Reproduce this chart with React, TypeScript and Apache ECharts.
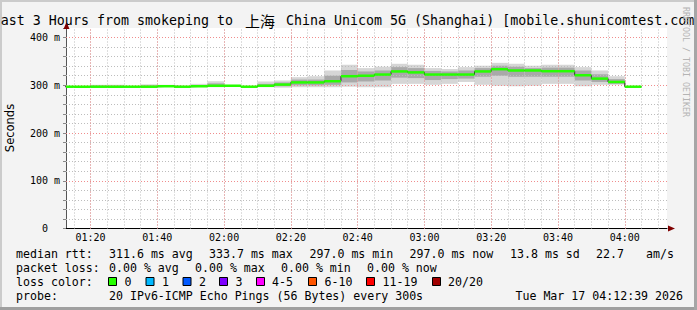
import React, { useEffect, useRef } from 'react';
import * as echarts from 'echarts';

// ---------- data ----------
const binStarts = [
  '01:10', '01:15', '01:20', '01:25', '01:30', '01:35', '01:40', '01:45', '01:50', '01:55',
  '02:00', '02:05', '02:10', '02:15', '02:20', '02:25', '02:30', '02:35', '02:40', '02:45',
  '02:50', '02:55', '03:00', '03:05', '03:10', '03:15', '03:20', '03:25', '03:30', '03:35',
  '03:40', '03:45', '03:50', '03:55', '04:00',
];
const medianRtt = [
  297, 297, 297, 297, 297, 297, 298, 297, 298, 299,
  299, 297, 299, 301.5, 306, 306, 308.5, 319, 320, 322.5,
  329, 327, 322.5, 322.5, 322.5, 329, 333.7, 331, 331, 329.5,
  329.5, 321, 314, 307, 297,
];
const smokeMin = [
  296.5, 297, 296, 296, 296.5, 296, 296.5, 296.5, 296, 296,
  296.5, 296, 296, 295, 296, 296, 296, 297, 296, 296,
  303, 303, 301, 303, 307, 301, 299, 298, 299, 303,
  303, 298, 301, 301, 296.5,
];
const smokeQ1 = [
  297, 297, 297, 297, 297, 297, 297, 297, 297, 297,
  297.5, 296.5, 297, 298, 300, 300, 301, 306, 308, 310,
  316, 315, 311, 313, 314, 318, 320, 318, 318, 318,
  318, 310, 307, 303, 297,
];
const smokeQ3 = [
  297.5, 297.5, 299, 299, 297.5, 299.5, 299.5, 297.5, 300.5, 304,
  300, 297.5, 303, 306, 312, 312, 320, 332, 329, 331,
  338, 336, 330, 329, 331, 336, 341, 339, 336, 337,
  337, 331, 323, 313, 297.5,
];
const smokeMax = [
  298, 298, 301, 301, 298.5, 302, 301, 298.5, 303, 308.5,
  301, 298, 308, 310, 317, 319, 331, 343, 336, 339,
  345, 343, 336, 334, 338, 341, 347, 345, 341, 343,
  343, 338, 331, 319, 298,
];
const BIN_MINUTES = 5;
const xStart = '01:12:39';
const xEnd = '04:12:39';
const xLabelTimes = ['01:20', '01:40', '02:00', '02:20', '02:40', '03:00', '03:20', '03:40', '04:00'];
const xMinorTimes = [
  '01:15', '01:20', '01:25', '01:30', '01:35', '01:40', '01:45', '01:50', '01:55', '02:00',
  '02:05', '02:10', '02:15', '02:20', '02:25', '02:30', '02:35', '02:40', '02:45', '02:50',
  '02:55', '03:00', '03:05', '03:10', '03:15', '03:20', '03:25', '03:30', '03:35', '03:40',
  '03:45', '03:50', '03:55', '04:00', '04:05', '04:10',
];
const yMajor = [100, 200, 300, 400];
const yMinor = [20, 40, 60, 80, 100, 120, 140, 160, 180, 200, 220, 240, 260, 280, 300, 320, 340, 360, 380, 400];

const titleLeft = 'ast 3 Hours from smokeping to ';
const titleCjk = '上海';
const titleRight = ' China Unicom 5G (Shanghai) [mobile.shunicomtest.com';
const watermark = 'RRDTOOL / TOBI OETIKER';
const yTitle = 'Seconds';

const rttRow = [
  'median rtt:', '311.6 ms avg', '333.7 ms max', '297.0 ms min', '297.0 ms now', '13.8 ms sd', '22.7', 'am/s',
];
const lossRow = ['packet loss:', '0.00 % avg', '0.00 % max', '0.00 % min', '0.00 % now'];
const lossLegendLabel = 'loss color:';
const lossNames = ['0', '1', '2', '3', '4-5', '6-10', '11-19', '20/20'];
const lossColors = ['#26ff00', '#00b8ff', '#0059ff', '#7e00ff', '#ff00ff', '#ff5500', '#ff0000', '#a00000'];
const probeRow = ['probe:', '20 IPv6-ICMP Echo Pings (56 Bytes) every 300s', 'Tue Mar 17 04:12:39 2026'];

// ---------- layout (pixels) ----------
const W = 697;
const H = 310;
const rttX = [16, 109, 209, 309.5, 409.5, 510, 596, 646];
const lossX = [16, 109, 195, 281, 367];
const boxX = [108, 145.5, 182.5, 219, 256, 308, 366, 432];
const boxLabelX = [124.5, 162, 199, 235.5, 272, 324.5, 382.5, 448];
const rowY = [254, 268, 282, 296];

const MONO = 'DejaVu Sans Mono';
const GRID_GRAY = '#bdbdbd';
const GRID_RED = '#f08c8c';

function toMin(t: string): number {
  const p = t.split(':').map(Number);
  return p[0] * 60 + p[1] + (p[2] || 0) / 60;
}
function pad(n: number) {
  return n < 10 ? '0' + n : '' + n;
}
function fmtMin(m: number) {
  const h = Math.floor(m / 60);
  const mm = Math.round(m - h * 60);
  return pad(h) + ':' + pad(mm);
}

function clipTo(r: any, cs: any) {
  return echarts.graphic.clipRectByRect(r, { x: cs.x, y: cs.y, width: cs.width, height: cs.height });
}

function bandSeries(lo: number[], hi: number[], color: string, z: number) {
  return {
    type: 'custom',
    z,
    silent: true,
    encode: { x: 0, y: [1, 2] },
    data: binStarts.map((t, i) => [toMin(t), lo[i], hi[i]]),
    renderItem: (params: any, api: any) => {
      const s = api.value(0);
      const a = api.coord([s, api.value(2)]);
      const b = api.coord([s + BIN_MINUTES, api.value(1)]);
      const r = clipTo({ x: a[0], y: a[1], width: b[0] - a[0], height: Math.max(b[1] - a[1], 0.6) }, params.coordSys);
      if (!r) return null;
      return { type: 'rect', shape: r, style: { fill: color } };
    },
  };
}

function txt(text: string, x: number, y: number, size: number, extra: any = {}) {
  const { fill, fontFamily, align, ...rest } = extra;
  return {
    type: 'text',
    x,
    y,
    z: 100,
    silent: true,
    ...rest,
    style: {
      text,
      fill: fill || '#000',
      fontFamily: fontFamily || MONO,
      fontSize: size,
      align: align || 'left',
      verticalAlign: 'middle',
      textAlign: align || 'left',
      textVerticalAlign: 'middle',
    },
  };
}

export default function App() {
  const ref = useRef<HTMLDivElement>(null);

  useEffect(() => {
    if (!ref.current) return;
    const chart = echarts.init(ref.current, undefined, { renderer: 'svg', width: W, height: H });

    const medianLine = binStarts.map((t, i) => [toMin(t), medianRtt[i]]);
    medianLine.push([toMin(binStarts[binStarts.length - 1]) + BIN_MINUTES, medianRtt[medianRtt.length - 1]]);

    const gridLineData: any[] = [];
    xMinorTimes.forEach((t) => gridLineData.push({ xAxis: toMin(t), lineStyle: { color: GRID_GRAY, type: [1, 2], width: 1 } }));
    yMinor.forEach((v) => gridLineData.push({ yAxis: v, lineStyle: { color: GRID_GRAY, type: [1, 2], width: 1 } }));
    xLabelTimes.forEach((t) => gridLineData.push({ xAxis: toMin(t), lineStyle: { color: GRID_RED, type: [1, 2], width: 1 } }));
    yMajor.forEach((v) => gridLineData.push({ yAxis: v, lineStyle: { color: GRID_RED, type: [1, 2], width: 1 } }));

    const graphics: any[] = [];
    // frame
    graphics.push({ type: 'rect', z: 90, silent: true, shape: { x: 0, y: 0, width: W, height: 2 }, style: { fill: '#cbcbcb' } });
    graphics.push({ type: 'rect', z: 90, silent: true, shape: { x: 0, y: 0, width: 2, height: H }, style: { fill: '#cbcbcb' } });
    graphics.push({ type: 'rect', z: 90, silent: true, shape: { x: 0, y: H - 3, width: W, height: 3 }, style: { fill: '#9f9f9f' } });
    graphics.push({ type: 'rect', z: 90, silent: true, shape: { x: W - 3, y: 0, width: 3, height: H }, style: { fill: '#a6a6a6' } });
    // arrows
    graphics.push({ type: 'polygon', z: 95, silent: true, shape: { points: [[66.5, 22], [63.5, 29], [69.5, 29]] }, style: { fill: '#7f0000' } });
    graphics.push({ type: 'polygon', z: 95, silent: true, shape: { points: [[675, 228.5], [668, 225.5], [668, 231.5]] }, style: { fill: '#7f0000' } });
    // title
    graphics.push(txt(titleLeft, 241, 20, 13.3, { align: 'right' }));
    graphics.push(txt(titleCjk, 260, 20, 15, { align: 'center', fontFamily: 'Noto Sans CJK SC' }));
    graphics.push(txt(titleRight, 278, 20, 13.3));
    // watermark
    graphics.push(txt(watermark, 686, 62, 8.3, { align: 'center', rotation: -Math.PI / 2, fill: '#b4b4b4' }));
    // y title
    graphics.push(txt(yTitle, 10, 128, 11.5, { align: 'center', rotation: Math.PI / 2, fontFamily: 'DejaVu Sans' }));
    // legend rows
    rttRow.forEach((s, i) => graphics.push(txt(s, rttX[i], rowY[0], 11.6)));
    lossRow.forEach((s, i) => graphics.push(txt(s, lossX[i], rowY[1], 11.6)));
    graphics.push(txt(lossLegendLabel, 16, rowY[2], 11.6));
    lossNames.forEach((s, i) => {
      graphics.push({
        type: 'rect', z: 100, silent: true,
        shape: { x: boxX[i] + 0.5, y: rowY[2] - 4.5, width: 8, height: 8 },
        style: { fill: lossColors[i], stroke: '#000', lineWidth: 1 },
      });
      graphics.push(txt(s, boxLabelX[i], rowY[2], 11.6));
    });
    graphics.push(txt(probeRow[0], 16, rowY[3], 11.6));
    graphics.push(txt(probeRow[1], 109, rowY[3], 11.6));
    graphics.push(txt(probeRow[2], 683, rowY[3], 11.6, { align: 'right' }));

    const option: any = {
      animation: false,
      backgroundColor: '#f3f3f3',
      grid: {
        left: 66,
        right: W - 667,
        top: 28,
        bottom: H - 228.5,
        show: true,
        backgroundColor: '#ffffff',
        borderWidth: 0,
        containLabel: false,
      },
      xAxis: {
        type: 'value',
        min: toMin(xStart),
        max: toMin(xEnd),
        axisLine: { show: true, onZero: false, lineStyle: { color: '#000', width: 1 } },
        axisTick: { show: false },
        splitLine: { show: false },
        axisLabel: {
          customValues: xLabelTimes.map(toMin),
          formatter: (v: number) => fmtMin(v),
          fontFamily: MONO,
          fontSize: 10,
          color: '#000',
          margin: 4,
        },
      },
      yAxis: {
        type: 'value',
        min: 0,
        max: 420,
        interval: 20,
        axisLine: { show: true, lineStyle: { color: '#555', width: 1 } },
        axisTick: { show: true, length: 3, lineStyle: { color: '#888' } },
        splitLine: { show: false },
        axisLabel: {
          fontFamily: MONO,
          fontSize: 10,
          color: '#000',
          margin: 6,
          formatter: (v: number) => (v % 100 === 0 ? (v === 0 ? '{z|0}' : v + ' m') : ''),
          rich: { z: { fontFamily: MONO, fontSize: 10, color: '#000', padding: [0, 12, 0, 0] } },
        },
      },
      series: [
        bandSeries(smokeMin, smokeMax, '#d6d6d6', 1),
        bandSeries(smokeQ1, smokeQ3, '#a9a9a9', 2),
        {
          type: 'line',
          z: 3,
          silent: true,
          symbol: 'none',
          data: medianLine,
          lineStyle: { opacity: 0 },
          markLine: {
            silent: true,
            symbol: ['none', 'none'],
            label: { show: false },
            animation: false,
            data: gridLineData,
          },
        },
        {
          type: 'line',
          z: 5,
          silent: true,
          step: 'end',
          symbol: 'none',
          data: medianLine,
          lineStyle: { color: '#2a2a2a', width: 1 },
        },
        {
          type: 'custom',
          z: 6,
          silent: true,
          encode: { x: 0, y: 1 },
          data: binStarts.map((t, i) => [toMin(t), medianRtt[i]]),
          renderItem: (params: any, api: any) => {
            const s = api.value(0);
            const a = api.coord([s, api.value(1)]);
            const b = api.coord([s + BIN_MINUTES, api.value(1)]);
            const r = clipTo({ x: a[0], y: a[1] - 1.25, width: b[0] - a[0], height: 2.5 }, params.coordSys);
            if (!r) return null;
            return { type: 'rect', shape: r, style: { fill: lossColors[0] } };
          },
        },
      ],
      graphic: { elements: graphics },
    };

    chart.setOption(option);
    return () => chart.dispose();
  }, []);

  return <div ref={ref} style={{ position: 'absolute', left: 0, top: 0, width: W, height: H }} />;
}
